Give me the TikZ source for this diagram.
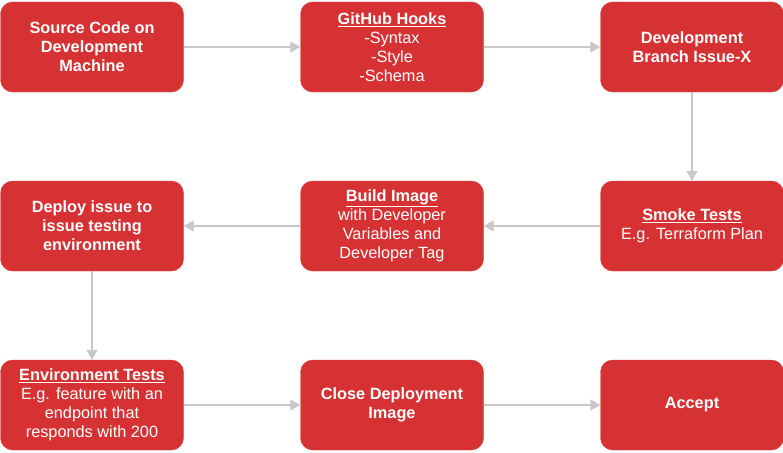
\documentclass[tikz,border=0pt]{standalone}
\usepackage{fontspec}
\setmainfont{Liberation Sans}
\usetikzlibrary{arrows.meta}
\definecolor{boxred}{RGB}{214,50,52}
\definecolor{flowgrey}{RGB}{200,200,200}
\newcommand{\boxhead}[1]{\underline{\textbf{#1}}}
\begin{document}
\begin{tikzpicture}[x=1pt,y=-1pt,
  redbox/.style={draw=boxred!90!white,fill=boxred,rounded corners=12pt,minimum width=183pt,minimum height=90pt,text=white,align=center,font=\fontsize{16.3}{19}\selectfont,inner sep=0pt},
  flow/.style={draw=flowgrey,line width=1.4pt,-{Triangle[length=10pt,width=11pt]}}]
\useasboundingbox (0,0) rectangle (783,452);
\node [redbox] (source) at (92,47) {\textbf{Source Code on}\\\textbf{Development}\\\textbf{Machine}};
\node [redbox] (hooks) at (392,47) {\boxhead{GitHub Hooks}\\-Syntax\\-Style\\-Schema};
\node [redbox] (devbranch) at (692,47) {\textbf{Development}\\\textbf{Branch Issue-X}};
\node [redbox] (deploy) at (92,226) {\textbf{Deploy issue to}\\\textbf{issue testing}\\\textbf{environment}};
\node [redbox] (buildimg) at (392,226) {\boxhead{Build Image}\\with Developer\\Variables and\\Developer Tag};
\node [redbox] (smoke) at (692,226) {\boxhead{Smoke Tests}\\E.g. Terraform Plan};
\node [redbox] (envtests) at (92,405) {\boxhead{Environment Tests}\\E.g. feature with an\\endpoint that\\responds with 200};
\node [redbox] (closeimg) at (392,405) {\textbf{Close Deployment}\\\textbf{Image}};
\node [redbox] (accept) at (692,405) {\textbf{Accept}};
\draw [flow] (source) -- (hooks);
\draw [flow] (hooks) -- (devbranch);
\draw [flow] (devbranch) -- (smoke);
\draw [flow] (smoke) -- (buildimg);
\draw [flow] (buildimg) -- (deploy);
\draw [flow] (deploy) -- (envtests);
\draw [flow] (envtests) -- (closeimg);
\draw [flow] (closeimg) -- (accept);
\end{tikzpicture}
\end{document}
